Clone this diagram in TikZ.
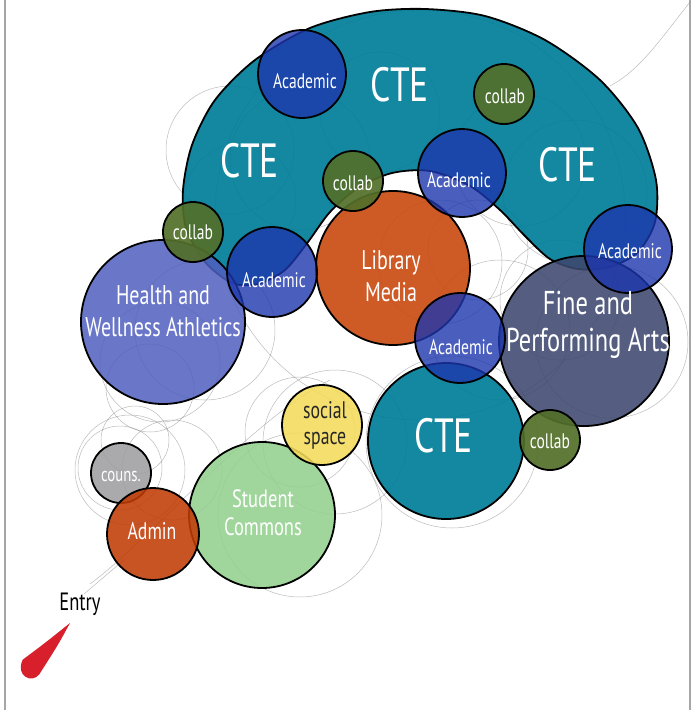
\documentclass[tikz,border=0pt]{standalone}
\usepackage{fontspec}
\setmainfont{PT Sans}[FakeStretch=0.74]
\usetikzlibrary{positioning}

\definecolor{ctecol}{RGB}{0,126,152}
\definecolor{acadcol}{RGB}{29,54,174}
\definecolor{collabcol}{RGB}{82,111,41}
\definecolor{libcol}{RGB}{202,76,20}
\definecolor{healthcol}{RGB}{80,95,191}
\definecolor{artscol}{RGB}{61,72,110}
\definecolor{socialcol}{RGB}{244,219,90}
\definecolor{commonscol}{RGB}{147,208,142}
\definecolor{counscol}{RGB}{158,158,160}
\definecolor{admincol}{RGB}{192,60,6}
\definecolor{entrycol}{RGB}{216,32,44}
\definecolor{pencilcol}{RGB}{120,120,120}

\tikzstyle{bubble}=[circle, draw=black, line width=1.8pt, inner sep=0pt, fill opacity=0.88]
\tikzstyle{acadbubble}=[bubble, fill=acadcol, fill opacity=0.8]
\tikzstyle{collabbubble}=[bubble, fill=collabcol, fill opacity=0.92, minimum size=60pt]
\tikzstyle{pencil}=[draw=pencilcol, line width=0.5pt, opacity=0.5]
\tikzstyle{frameline}=[draw=black!35, line width=2pt]
\tikzstyle{lbl}=[text=white, align=center, inner sep=0pt,
                 font=\fontsize{21}{24}\selectfont]
\tikzstyle{biglbl}=[lbl, font=\fontsize{27}{32}\selectfont]
\tikzstyle{ctelbl}=[lbl, font=\fontsize{48}{50}\selectfont]

\begin{document}
\begin{tikzpicture}[x=1pt,y=-1pt]
\useasboundingbox (0,0) rectangle (693,710);

\draw[frameline] (5,0) -- (5,710);
\draw[frameline] (690,0) -- (690,710);

% pencil sketch underneath
\foreach \x/\y/\r in {160/362/60, 150/388/44, 135/440/34, 120/468/42, 172/470/50,
                      300/432/55, 335/442/72, 300/515/82, 452/442/86, 500/330/70,
                      612/342/76, 300/160/70, 380/112/60, 520/160/66, 575/192/72,
                      240/200/56, 440/262/62, 478/250/50, 205/330/70, 560/300/60,
                      230/150/64, 420/215/205, 130/470/55}
  \draw[pencil] (\x,\y) circle[radius=\r pt];
\draw[pencil] (690,2) .. controls (660,40) and (640,70) .. (610,86);
\draw[pencil] (84,594) .. controls (98,582) and (112,570) .. (124,560);
\draw[pencil] (90,584) .. controls (150,540) and (250,420) .. (330,380);

% CTE horseshoe
\filldraw[fill=ctecol, fill opacity=0.92, draw=black, line width=1.8pt]
  plot[smooth cycle] coordinates {(232,283) (205,262) (186,228) (183,190) (192,145)
    (215,100) (255,60) (310,28) (370,12) (425,9) (485,16) (545,40) (600,80)
    (638,128) (656,180) (655,222) (638,252) (610,267) (578,269) (550,259)
    (525,236) (500,210) (470,186) (430,171) (392,173) (358,188) (330,212)
    (308,242) (285,270) (258,284)};

\node (health) [bubble, fill=healthcol, fill opacity=0.85, minimum size=164pt] at (163,322) {};
\node (library) [bubble, fill=libcol, fill opacity=0.92, minimum size=154pt] at (393,268) {};
\node (arts) [bubble, fill=artscol, minimum size=170pt] at (584,341) {};
\node (cteLow) [bubble, fill=ctecol, fill opacity=0.92, minimum size=156pt] at (446,441) {};
\node (commons) [bubble, fill=commonscol, minimum size=146pt] at (262,515) {};
\node (social) [bubble, fill=socialcol, minimum size=80pt] at (322,425) {};
\node (couns) [bubble, fill=counscol, minimum size=60pt] at (121,473) {};
\node (admin) [bubble, fill=admincol, minimum size=92pt] at (153,534) {};

\node (acadTop) [acadbubble, minimum size=88pt] at (302,74) {};
\node (acadMid) [acadbubble, minimum size=88pt] at (462,173) {};
\node (acadRight) [acadbubble, minimum size=88pt] at (628,249) {};
\node (acadLeft) [acadbubble, minimum size=90pt] at (272,272) {};
\node (acadLow) [acadbubble, minimum size=90pt] at (460,338) {};

\node (collabTop) [collabbubble] at (504,94) {};
\node (collabMid) [collabbubble] at (353,181) {};
\node (collabLeft) [collabbubble] at (193,232) {};
\node (collabLow) [collabbubble] at (550,440) {};

% labels
\node (cteTopT) [ctelbl] at (400,85) {CTE};
\node (cteLeftT) [ctelbl] at (250,161) {CTE};
\node (cteRightT) [ctelbl] at (568,165) {CTE};
\node (cteLowT) [ctelbl] at (444,436) {CTE};

\node (acadTopT) [lbl] at (305,81) {Academic};
\node (acadMidT) [lbl] at (459,180) {Academic};
\node (acadRightT) [lbl] at (630,251) {Academic};
\node (acadLeftT) [lbl] at (274,280) {Academic};
\node (acadLowT) [lbl] at (461,347) {Academic};

\node (collabTopT) [lbl] at (505,96) {collab};
\node (collabMidT) [lbl] at (353,183) {collab};
\node (collabLeftT) [lbl] at (193,232) {collab};
\node (collabLowT) [lbl] at (550,441) {collab};

\node (healthT) [biglbl] at (163,311) {Health and\\Wellness Athletics};
\node (libraryT) [biglbl] at (391,276) {Library\\Media};
\node (artsT) [biglbl, font=\fontsize{33}{37}\selectfont] at (588,325) {Fine and\\Performing Arts};
\node (socialT) [lbl, text=black!85, font=\fontsize{24}{26}\selectfont] at (325,425) {social\\space};
\node (commonsT) [lbl, font=\fontsize{25}{28}\selectfont] at (263,513) {Student\\Commons};
\node (counsT) [lbl, font=\fontsize{20}{22}\selectfont] at (121,476) {couns.};
\node (adminT) [lbl, font=\fontsize{24}{26}\selectfont] at (152,531) {Admin};

% entry marker
\node (entry) [text=black, inner sep=0pt, font=\fontsize{25}{27}\selectfont] at (80,604) {Entry};
\fill[entrycol] (70,623) .. controls (58,645) .. (39.3,674.3)
  .. controls (32,684) and (15,676) .. (22.7,659.7)
  .. controls (45,643) .. (70,623) -- cycle;

\end{tikzpicture}
\end{document}
